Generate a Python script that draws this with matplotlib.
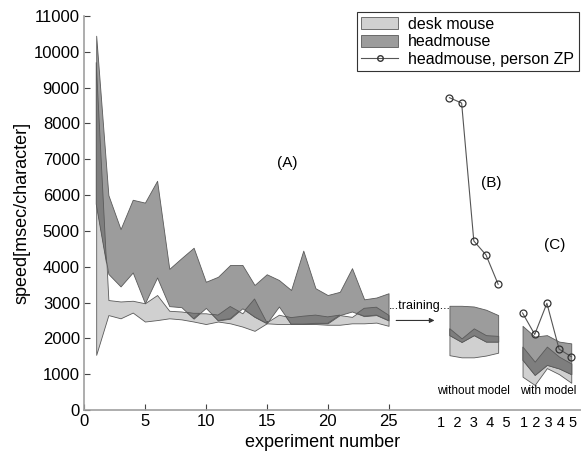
import numpy as np
import matplotlib
matplotlib.use('Agg')
import matplotlib.pyplot as plt
from matplotlib.patches import Patch
from matplotlib.lines import Line2D

plt.rcParams['font.family'] = ['Liberation Sans', 'DejaVu Sans']

# (A) experiments 1..25
x_a = np.arange(1, 26)
desk_lo = [1540, 2650, 2560, 2720, 2470, 2510, 2560, 2530, 2470, 2400, 2470, 2420, 2330,
           2210, 2420, 2400, 2400, 2400, 2400, 2380, 2380, 2420, 2420, 2440, 2350]
desk_hi = [9700, 3070, 3030, 3050, 2980, 3210, 2770, 2750, 2700, 2700, 2650, 2890, 2700,
           3100, 2450, 2660, 2580, 2620, 2650, 2600, 2650, 2600, 2840, 2870, 2650]
head_lo = [5750, 3800, 3450, 3840, 2980, 3700, 2900, 2870, 2550, 2850, 2500, 2550, 2840,
           2600, 2420, 2890, 2400, 2400, 2420, 2420, 2650, 2750, 2620, 2650, 2500]
head_hi = [10450, 6000, 5050, 5870, 5790, 6400, 3940, 4240, 4530, 3580, 3720, 4050, 4050,
           3490, 3790, 3630, 3350, 4450, 3400, 3210, 3300, 3960, 3090, 3140, 3260]

# (B) without model
x_b = np.arange(30, 35)
b_desk_lo = [1530, 1470, 1470, 1520, 1600]
b_desk_hi = [2280, 2000, 2280, 2090, 2070]
b_head_lo = [2090, 1900, 2090, 1910, 1910]
b_head_hi = [2910, 2910, 2890, 2800, 2650]
zp_b = [8720, 8570, 4720, 4330, 3510]

# (C) with model
x_c = np.arange(36, 41)
c_desk_lo = [930, 700, 1170, 1000, 760]
c_desk_hi = [1770, 1350, 1770, 1490, 1300]
c_head_lo = [1400, 980, 1260, 1160, 1000]
c_head_hi = [2350, 2050, 2090, 1910, 1860]
zp_c = [2710, 2110, 2980, 1700, 1490]

main_ticks = [0, 5, 10, 15, 20, 25]
sub_labels = ['1', '2', '3', '4', '5']

c_desk = '#d0d0d0'
c_head = '#9c9c9c'
c_both = '#7e7e7e'
c_edge = '#5a5a5a'

fig = plt.figure(figsize=(5.81, 4.55), dpi=100)
ax = fig.add_axes([0.1446, 0.0989, 0.8554, 0.8659])


def bands(x, dlo, dhi, hlo, hhi):
    dlo, dhi, hlo, hhi = map(np.asarray, (dlo, dhi, hlo, hhi))
    ax.fill_between(x, dlo, dhi, facecolor=c_desk, edgecolor=c_edge, lw=0.6, zorder=2)
    ax.fill_between(x, hlo, hhi, facecolor=c_head, edgecolor=c_edge, lw=0.6, zorder=3)
    lo = np.maximum(dlo, hlo)
    hi = np.minimum(dhi, hhi)
    ax.fill_between(x, lo, hi, where=hi > lo, interpolate=True,
                    facecolor=c_both, edgecolor=c_edge, lw=0.6, zorder=4)


bands(x_a, desk_lo, desk_hi, head_lo, head_hi)
bands(x_b, b_desk_lo, b_desk_hi, b_head_lo, b_head_hi)
bands(x_c, c_desk_lo, c_desk_hi, c_head_lo, c_head_hi)

for xx, yy in ((x_b, zp_b), (x_c, zp_c)):
    ax.plot(xx, yy, '-o', color='#555555', lw=0.8, ms=5, mfc='none',
            mec='#333333', mew=0.9, zorder=5)

ax.set_xlim(0, 40.8)
ax.set_ylim(0, 11000)
ax.set_yticks(np.arange(0, 11001, 1000))
ax.set_xticks(main_ticks)
ax.tick_params(direction='in', length=4, labelsize=12, color='#444444', pad=3)
for s in ('top', 'right'):
    ax.spines[s].set_visible(False)
for s in ('left', 'bottom'):
    ax.spines[s].set_color('#a0a0a0')
    ax.spines[s].set_linewidth(1.2)

ax.text(32, -180, '  '.join(sub_labels), ha='center', va='top', fontsize=10.5)
ax.text(38.1, -180, ' '.join(sub_labels), ha='center', va='top', fontsize=10.5)
ax.text(32, 350, 'without model', ha='center', va='bottom', fontsize=8.5)
ax.text(38.1, 350, 'with model', ha='center', va='bottom', fontsize=8.5)

ax.text(16.7, 6900, '(A)', ha='center', va='center', fontsize=11)
ax.text(33.4, 6340, '(B)', ha='center', va='center', fontsize=11)
ax.text(38.6, 4620, '(C)', ha='center', va='center', fontsize=11)
ax.text(27.6, 2750, '...training...', ha='center', va='bottom', fontsize=9)
ax.annotate('', xy=(29.0, 2500), xytext=(25.4, 2500),
            arrowprops=dict(arrowstyle='-|>', color='#333333', lw=0.8,
                            mutation_scale=7))

ax.set_xlabel('experiment number', fontsize=13, labelpad=2)
ax.xaxis.set_label_coords(0.48, -0.06)
ax.set_ylabel('speed[msec/character]', fontsize=13, labelpad=2)

handles = [Patch(facecolor=c_desk, edgecolor=c_edge, lw=0.6, label='desk mouse'),
           Patch(facecolor=c_head, edgecolor=c_edge, lw=0.6, label='headmouse'),
           Line2D([], [], color='#555555', lw=0.8, marker='o', ms=4, mfc='none',
                  mec='#333333', label='headmouse, person ZP')]
leg = ax.legend(handles=handles, loc='upper right', bbox_to_anchor=(0.995, 1.01),
                fontsize=11.5, fancybox=False, framealpha=1, edgecolor='#333333',
                borderpad=0.3, labelspacing=0.15, handlelength=2.3, handleheight=0.8,
                handletextpad=0.6, borderaxespad=0.0)
leg.get_frame().set_linewidth(0.8)

fig.savefig('out.png', dpi=100)
